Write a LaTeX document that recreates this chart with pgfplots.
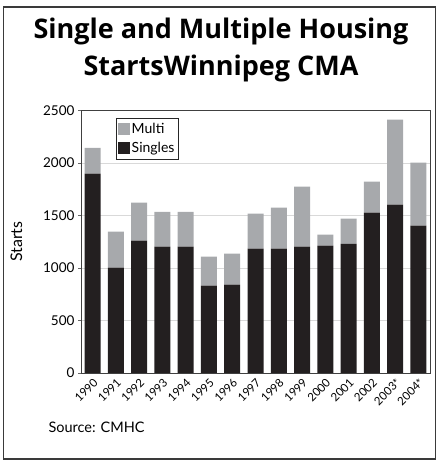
\documentclass[border=0pt]{standalone}
\usepackage{fontspec}
\setmainfont{Lato}
\newfontfamily\titlefont{Open Sans}
\usepackage{pgfplots}
\pgfplotsset{compat=1.18}
\definecolor{singles}{HTML}{231F20}
\definecolor{multi}{HTML}{A7A9AC}
\definecolor{frame}{HTML}{3A3A3A}

\begin{document}
\begin{tikzpicture}[x=1bp,y=1bp]
\useasboundingbox (0,0) rectangle (438,462);
\draw[line width=1.5bp, draw=frame] (3.5,3) rectangle (435.5,455);

% title, two lines
\node[anchor=base, font=\titlefont\fontsize{27bp}{29bp}\selectfont\bfseries] at (221,423) {Single and Multiple Housing};
\node[anchor=base, font=\titlefont\fontsize{27bp}{29bp}\selectfont\bfseries] at (221,386) {StartsWinnipeg CMA};

\begin{axis}[
    at={(81bp,89bp)}, anchor=south west,
    width=349bp, height=262.6bp, scale only axis,
    ybar stacked,
    bar width=16bp,
    xmin=-0.5, xmax=14.5,
    ymin=0, ymax=2500,
    ytick={0,500,...,2500},
    xtick={0,...,14},
    xticklabels={1990,1991,1992,1993,1994,1995,1996,1997,1998,1999,2000,2001,2002,2003*,2004*},
    x tick label style={rotate=45, anchor=north east, inner sep=1bp, font=\fontsize{11.5bp}{12bp}\selectfont},
    y tick label style={font=\fontsize{13.5bp}{14bp}\selectfont},
    /pgf/number format/assume math mode=true,
    /pgf/number format/1000 sep={},
    ymajorgrids,
    grid style={gray!30, line width=0.8bp},
    axis line style={draw=black!75, line width=0.8bp},
    xtick style={draw=none},
    ytick style={draw=black!60},
    ytick pos=left,
    tick align=outside,
    major tick length=3bp,
    ylabel={\fontsize{16bp}{17bp}\selectfont Starts},
    ylabel style={at={(axis description cs:-0.185,0.5)}, anchor=center},
    legend style={at={(0.099,0.97)}, anchor=north west, draw=black!85,
        font=\fontsize{14bp}{15bp}\selectfont, inner xsep=2bp, inner ysep=3bp,
        row sep=3bp, cells={anchor=west}},
    legend image code/.code={\fill[#1, draw=none] (0bp,-6bp) rectangle (12bp,6bp);},
    reverse legend,
]
\addplot[fill=singles, draw=none] coordinates {
    (0,1897) (1,1002) (2,1259) (3,1202) (4,1202) (5,831) (6,841) (7,1183)
    (8,1183) (9,1202) (10,1212) (11,1230) (12,1526) (13,1603) (14,1402)
};
\addlegendentry{Singles}
\addplot[fill=multi, draw=none] coordinates {
    (0,245) (1,343) (2,362) (3,333) (4,333) (5,276) (6,295) (7,334)
    (8,391) (9,572) (10,105) (11,239) (12,295) (13,809) (14,600)
};
\addlegendentry{Multi}
\end{axis}

\node[anchor=base west, font=\fontsize{14.5bp}{15bp}\selectfont] at (45,29) {Source: CMHC};
\end{tikzpicture}
\end{document}
